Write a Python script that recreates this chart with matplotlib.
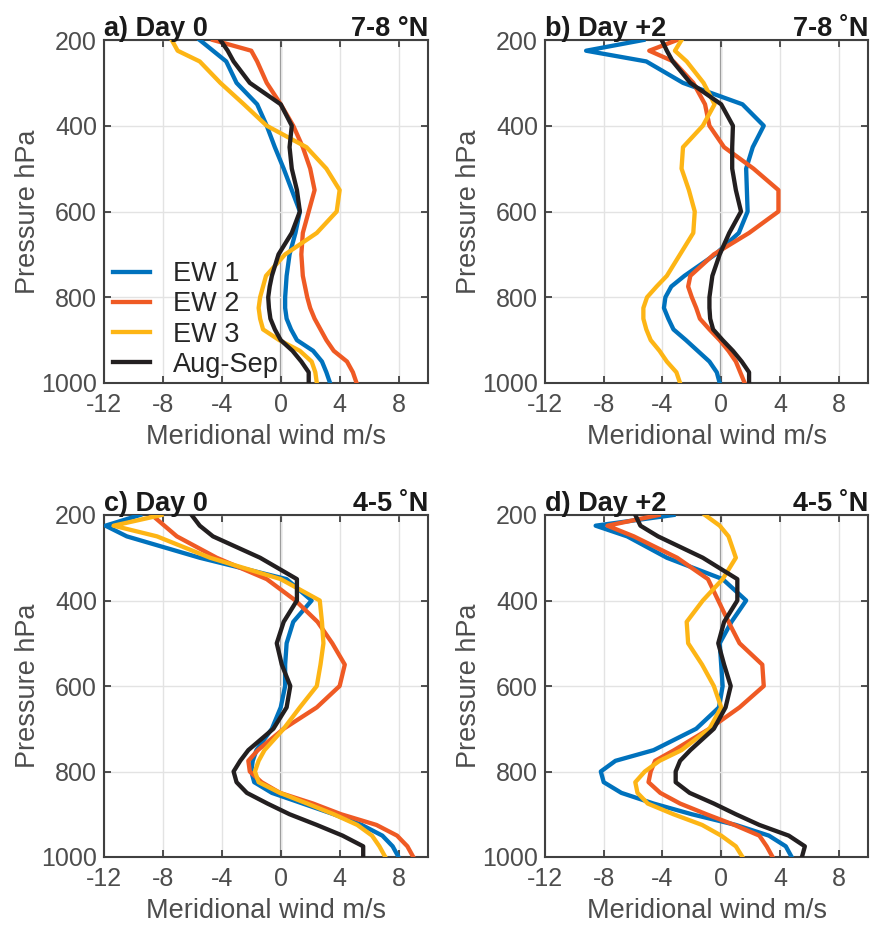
import numpy as np
import matplotlib
matplotlib.use('Agg')
import matplotlib.pyplot as plt

plt.rcParams['font.family'] = ['Liberation Sans', 'DejaVu Sans']
plt.rcParams['axes.unicode_minus'] = False

# pressure levels (hPa)
lev = [200, 225, 250, 300, 350, 400, 450, 500, 550, 600, 650, 700,
       750, 775, 800, 825, 850, 875, 900, 925, 950, 975, 1000]

# a) Day 0, 7-8N
a_ew1 = [-5.5, -4.6, -3.7, -3.0, -1.6, -0.95, -0.4, 0.2, 0.75, 1.3, 1.0, 0.6,
         0.4, 0.35, 0.3, 0.3, 0.4, 0.7, 1.1, 2.2, 2.8, 3.1, 3.35]
a_ew2 = [-4.6, -2.0, -1.6, -0.95, 0.0, 0.85, 1.5, 2.0, 2.3, 1.9, 1.5, 1.4,
         1.5, 1.65, 1.8, 2.0, 2.3, 2.7, 3.1, 3.6, 4.5, 4.9, 5.15]
a_ew3 = [-7.4, -7.0, -5.5, -4.1, -2.5, -0.95, 1.75, 3.1, 4.0, 3.8, 2.45, 0.3,
         -1.0, -1.2, -1.4, -1.5, -1.4, -1.2, -0.1, 1.3, 2.1, 2.35, 2.45]
a_clim = [-4.1, -3.6, -3.2, -2.1, 0.0, 0.75, 0.6, 0.75, 1.1, 1.3, 0.75, -0.15,
          -0.6, -0.75, -0.85, -0.8, -0.7, -0.4, 0.0, 0.8, 1.4, 1.9, 1.9]

# b) Day +2, 7-8N
b_ew1 = [-5.3, -9.2, -5.1, -2.6, 1.45, 2.9, 2.15, 1.7, 1.75, 1.8, 1.2, -0.4,
         -2.5, -3.4, -3.8, -3.9, -3.6, -3.25, -2.4, -1.6, -0.8, -0.3, -0.1]
b_ew2 = [-3.0, -4.9, -3.25, -1.9, -1.1, -0.8, 0.2, 2.2, 3.9, 3.9, 1.9, -0.5,
         -2.1, -2.25, -2.0, -1.7, -1.45, -0.8, -0.1, 0.5, 1.0, 1.3, 1.6]
b_ew3 = [-2.7, -3.15, -2.35, -1.2, -0.45, -1.25, -2.6, -2.7, -2.2, -1.8, -1.9, -2.8,
         -3.7, -4.4, -5.05, -5.3, -5.3, -5.1, -4.8, -4.2, -3.7, -3.05, -2.8]
b_clim = [-4.05, -3.7, -3.3, -2.1, 0.0, 0.8, 0.75, 0.75, 1.0, 1.35, 0.55, -0.1,
          -0.6, -0.7, -0.8, -0.8, -0.75, -0.55, 0.1, 0.8, 1.4, 1.9, 1.9]

# c) Day 0, 4-5N
c_ew1 = [-9.55, -11.9, -10.45, -5.5, 0.4, 2.1, 0.85, 0.4, 0.3, 0.3, 0.0, -0.6,
         -1.65, -1.9, -2.0, -1.8, -0.6, 1.5, 3.6, 5.5, 6.9, 7.6, 8.0]
c_ew2 = [-8.75, -7.9, -7.05, -4.35, -0.95, 1.0, 2.5, 3.5, 4.35, 4.0, 2.45, 0.2,
         -1.55, -2.2, -2.1, -1.3, -0.05, 2.2, 4.1, 6.5, 7.9, 8.6, 9.0]
c_ew3 = [-8.1, -11.35, -8.4, -4.8, 0.0, 2.65, 2.8, 2.9, 2.7, 2.45, 1.3, 0.2,
         -1.1, -1.5, -1.75, -1.5, -0.05, 1.8, 3.6, 5.2, 6.2, 6.7, 7.1]
c_clim = [-6.05, -5.5, -4.6, -1.4, 1.1, 1.1, 0.2, -0.27, 0.07, 0.65, 0.4, -0.5,
          -2.2, -2.75, -3.2, -3.0, -2.3, -0.9, 0.6, 2.45, 4.2, 5.6, 5.6]

# d) Day +2, 4-5N
d_ew1 = [-3.25, -8.55, -6.4, -3.7, 0.1, 1.7, 0.7, -0.1, 0.0, 0.1, -0.15, -1.7,
         -4.6, -7.2, -8.2, -8.0, -6.8, -4.6, -2.0, 1.0, 3.25, 4.4, 4.8]
d_ew2 = [-4.25, -7.75, -5.95, -3.0, -0.9, -0.2, 0.5, 1.25, 2.8, 2.9, 1.25, -0.8,
         -3.2, -4.5, -4.8, -4.95, -4.15, -2.8, -1.0, 0.9, 2.6, 3.1, 3.5]
d_ew3 = [-1.1, -0.1, 0.5, 1.0, 0.1, -1.25, -2.35, -2.25, -1.3, -0.5, 0.0, -0.8,
         -2.7, -4.2, -5.2, -5.85, -5.7, -5.0, -3.25, -1.3, 0.0, 1.0, 1.45]
d_clim = [-5.85, -5.5, -4.3, -1.25, 1.1, 1.1, 0.2, -0.2, 0.2, 0.65, 0.3, -0.5,
          -2.1, -2.8, -3.1, -3.1, -2.15, -0.5, 1.0, 2.6, 4.6, 5.7, 5.5]

labels = ['EW 1', 'EW 2', 'EW 3', 'Aug-Sep']
colors = ['#0072BD', '#EF5A24', '#FDB515', '#231F20']
titles_l = ['a) Day 0', 'b) Day +2', 'c) Day 0', 'd) Day +2']
titles_r = ['7-8 °N', '7-8 ˚N', '4-5 ˚N', '4-5 ˚N']
xticks = [-12, -8, -4, 0, 4, 8]
yticks = [200, 400, 600, 800, 1000]

panels = [[a_ew1, a_ew2, a_ew3, a_clim],
          [b_ew1, b_ew2, b_ew3, b_clim],
          [c_ew1, c_ew2, c_ew3, c_clim],
          [d_ew1, d_ew2, d_ew3, d_clim]]

W, H = 871, 925
fig = plt.figure(figsize=(W / 100, H / 100), dpi=100)

# axes boxes in pixels: left, top, right, bottom
boxes = [(104, 40, 428, 383), (545, 40, 868, 383),
         (104, 515, 428, 857), (545, 515, 868, 857)]

fs = 19.5   # titles, axis labels, legend
tfs = 18    # tick labels
tick_col = '#4D4D4D'
for i, (l, t, r, b) in enumerate(boxes):
    ax = fig.add_axes([l / W, 1 - b / H, (r - l) / W, (b - t) / H])
    ax.axvline(0, color='#8C8C8C', lw=1.6, zorder=1)
    for series, col, lab in zip(panels[i], colors, labels):
        ax.plot(series, lev, color=col, lw=3.1, label=lab, zorder=3)
    ax.set_xlim(-12, 10)
    ax.set_ylim(1000, 200)
    ax.set_xticks(xticks)
    ax.set_yticks(yticks)
    ax.grid(True, color='#E3E3E3', lw=1.0, zorder=0)
    ax.tick_params(direction='in', top=True, right=True, length=5, width=1.3,
                   labelsize=tfs, colors='#404040', labelcolor=tick_col)
    ax.tick_params(axis='x', pad=7)
    ax.tick_params(axis='y', pad=5)
    for s in ax.spines.values():
        s.set_color('#404040')
        s.set_linewidth(1.5)
    ax.set_xlabel('Meridional wind m/s', fontsize=fs, color=tick_col, labelpad=5)
    ax.set_ylabel('Pressure hPa', fontsize=fs, color=tick_col, labelpad=0)
    ax.set_title(titles_l[i], loc='left', fontsize=fs, fontweight='bold',
                 color='#1A1A1A', pad=3)
    ax.set_title(titles_r[i], loc='right', fontsize=fs, fontweight='bold',
                 color='#1A1A1A', pad=3)
    if i == 0:
        ax.legend(loc='lower left', frameon=False, fontsize=fs, handlelength=1.35,
                  handletextpad=0.85, labelspacing=0.15, borderaxespad=0.0,
                  borderpad=0.2, labelcolor='#262626',
                  bbox_to_anchor=(0.012, 0.0))

fig.savefig('out.png', dpi=100)
